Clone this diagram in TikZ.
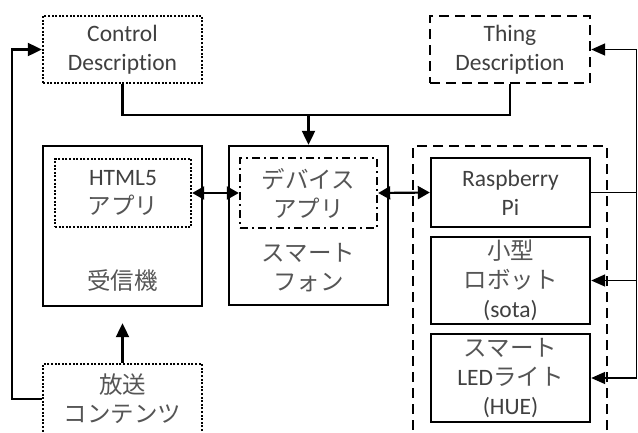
\documentclass[tikz,border=0pt]{standalone}
\usepackage{fontspec}
\setmainfont{Carlito}[Ligatures=NoCommon]
\newfontfamily\jp{Noto Sans CJK JP}
\usetikzlibrary{arrows.meta}
\definecolor{txt}{HTML}{404040}
\definecolor{jtxt}{HTML}{555555}
\tikzset{
  box/.style={draw=black, line width=2.4pt, inner sep=0pt, text=txt, align=center},
  dotbox/.style={box, dash pattern=on 2pt off 1.6pt},
  dashbox/.style={box, dash pattern=on 10pt off 6pt},
  dashdotbox/.style={box, dash pattern=on 8pt off 4pt on 2pt off 4pt},
  lbl/.style={inner sep=0pt, text=txt, align=center},
  conn/.style={line width=2.2pt},
  arr/.style={line width=2.2pt, -{Triangle[length=14pt,width=13pt]}},
  biarr/.style={line width=2.2pt, {Triangle[length=12pt,width=13pt]}-{Triangle[length=12pt,width=13pt]}},
  bus/.style={line width=1.6pt},
  busarr/.style={line width=1.6pt, -{Triangle[length=14pt,width=12pt]}}
}
\begin{document}
\begin{tikzpicture}[x=1pt,y=-1pt,font=\fontsize{23.5}{29}\selectfont]
\clip (0,0) rectangle (638,432);
\fill[white] (0,0) rectangle (638,432);
% top descriptions
\node[dotbox, minimum width=159pt, minimum height=67pt] (cd) at (122.5,49.5) {Control\\Description};
\node[dashbox, minimum width=160pt, minimum height=67pt] (td) at (510,49.5) {Thing\\Description};
% receiver
\node[box, minimum width=159pt, minimum height=160pt] (rx) at (122.5,226) {};
\node[dotbox, minimum width=136pt, minimum height=68pt] (html) at (123,193) {HTML5\\{\jp\color{jtxt}アプリ}};
\node[lbl] (rxl) at (122.5,281) {\jp\color{jtxt}受信機};
% smartphone
\node[box, minimum width=159pt, minimum height=159pt] (sp) at (308.5,225.5) {};
\node[dashdotbox, minimum width=137pt, minimum height=70pt] (da) at (308.5,193) {\jp\color{jtxt}デバイス\\\jp\color{jtxt}アプリ};
\node[lbl] (spl) at (308.5,268) {\jp\color{jtxt}スマート\\\jp\color{jtxt}フォン};
% device group
\node[dashbox, minimum width=194pt, minimum height=314pt] (grp) at (510,303) {};
\node[box, minimum width=159pt, minimum height=69pt] (rp) at (510.5,192.5) {Raspberry\\Pi};
\node[box, minimum width=159pt, minimum height=87pt] (sota) at (510.5,280.5) {{\jp\color{jtxt}小型}\\{\jp\color{jtxt}ロボット}\\(sota)};
\node[box, minimum width=159pt, minimum height=88pt] (hue) at (510.5,378) {{\jp\color{jtxt}スマート}\\LED{\jp\color{jtxt}ライト}\\(HUE)};
% broadcast content
\node[dotbox, minimum width=159pt, minimum height=70pt] (bc) at (122.5,399) {{\jp\color{jtxt}放送}\\{\jp\color{jtxt}コンテンツ}};
% top connectors
\coordinate (j) at (308.5,115);
\draw[conn] (cd.south) |- (j) -| (td.south);
\draw[arr] (j) -- (sp.north);
% bidirectional arrows
\draw[biarr] (html.east) -- (da.west);
\draw[biarr] (da.east) -- (rp.west);
% broadcast to receiver
\draw[arr, shorten >=16pt] (bc.north) -- (rx.south);
% left bus
\coordinate (lt) at (12,49.5);
\draw[arr] (bc.west) -| (lt) -- (cd.west);
% right bus
\coordinate (bt) at (636.5,49.5);
\coordinate (bb) at (636.5,378);
\draw[bus] (bt) -- (bb);
\draw[bus] (rp.east) -- (rp.east -| bt);
\draw[busarr] (bt) -- (td.east);
\draw[busarr] (sota.east -| bt) -- (sota.east);
\draw[busarr] (bb) -- (hue.east);
\end{tikzpicture}
\end{document}
